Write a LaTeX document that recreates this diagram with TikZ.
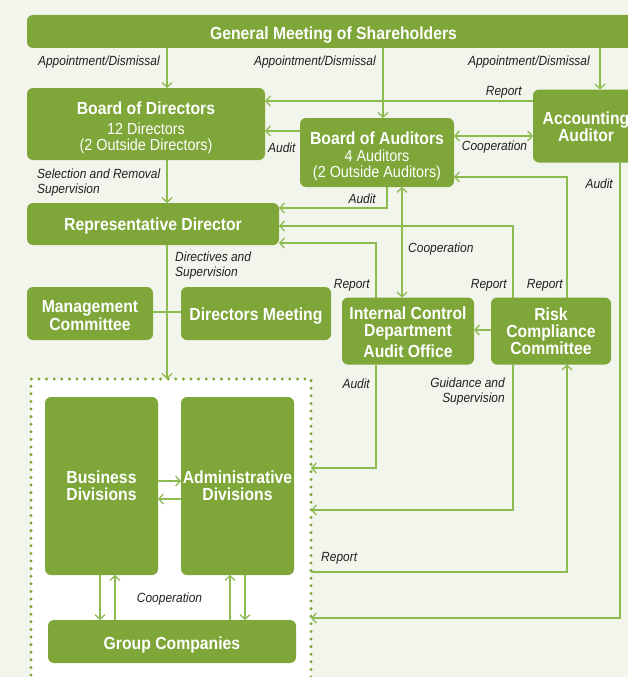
\documentclass[tikz,border=0pt]{standalone}
\usepackage{fontspec}
\setmainfont{Liberation Sans}[FakeStretch=0.9]
\usetikzlibrary{arrows.meta}

\definecolor{boxgreen}{RGB}{126,166,56}
\definecolor{linegreen}{RGB}{141,187,82}
\definecolor{paper}{RGB}{242,245,235}
\definecolor{ink}{RGB}{35,31,32}

\newcommand{\boxtitle}{\bfseries\fontsize{17.5}{17}\selectfont}
\newcommand{\boxsub}{\fontsize{16}{16}\selectfont}
\newcommand{\linklabel}{\itshape\fontsize{13.3}{15}\selectfont}
% taller first line, so the text sits a little lower in its box
\newcommand{\lift}[1]{\rule{0pt}{#1pt}}

\tikzset{
  orgbox/.style={fill=boxgreen, rounded corners=6pt, text=white, align=center,
    inner sep=0pt, outer sep=0pt, font=\boxtitle},
  lbl/.style={text=ink, font=\linklabel, inner sep=0pt},
  link/.style={draw=linegreen, line width=1.3pt},
  arr/.style={link, -{Straight Barb[length=4.5pt,width=10pt]}},
  dbl/.style={link, {Straight Barb[length=4.5pt,width=10pt]}-{Straight Barb[length=4.5pt,width=10pt]}},
}

\begin{document}
\begin{tikzpicture}[x=1pt,y=-1pt]

% Page and background
\useasboundingbox (0,0) rectangle (628,677);
\fill[paper] (0,0) rectangle (628,677);

% Governance boxes
\node[orgbox, minimum width=613pt, minimum height=33pt] (gm) at (333.5,31.5) {\lift{19}General Meeting of Shareholders};
\node[orgbox, minimum width=238pt, minimum height=72pt, font=\boxsub] (bod) at (146,124)
  {{\boxtitle\lift{20.5}Board of Directors}\\[4pt]12 Directors\\(2 Outside Directors)};
\node[orgbox, minimum width=154pt, minimum height=69pt, font=\boxsub] (boa) at (377,152.5)
  {{\boxtitle\lift{20}Board of Auditors}\\[1pt]4 Auditors\\(2 Outside Auditors)};
\node[orgbox, minimum width=106pt, minimum height=73pt] (aa) at (586,126) {\lift{14}Accounting\\Auditor};
\node[orgbox, minimum width=252pt, minimum height=42pt] (rd) at (153,224) {\lift{17.3}Representative Director};
\node[orgbox, minimum width=126pt, minimum height=53pt] (mc) at (90,313.5) {\lift{16}Management\\[1pt]Committee};
\node[orgbox, minimum width=150pt, minimum height=53pt] (dm) at (256,313.5) {\lift{17.7}Directors Meeting};
\node[orgbox, minimum width=132pt, minimum height=67pt] (icd) at (408,331) {\lift{15.5}Internal Control\\Department\\[4.5pt]Audit Office};
\node[orgbox, minimum width=120pt, minimum height=67pt] (rcc) at (551,331) {Risk\\Compliance\\Committee};

% Divisions area
\node[draw=boxgreen, fill=white, line width=3.3pt, dash pattern=on 0pt off 7.6pt, line cap=round,
  outer sep=0pt, minimum width=280pt, minimum height=322pt] (div) at (171,540) {};
\node[orgbox, minimum width=113pt, minimum height=178pt] (bd) at (101.5,486) {Business\\Divisions};
\node[orgbox, minimum width=113pt, minimum height=178pt] (ad) at (237.5,486) {Administrative\\Divisions};
\node[orgbox, minimum width=248pt, minimum height=43pt] (gc) at (172,641.5) {\lift{19.7}Group Companies};

% Tracks and corners of the connectors
\coordinate (vdir) at (167,0);
\coordinate (vaud) at (383,0);
\coordinate (vacc) at (600,0);
\coordinate (vcoop) at (402,0);
\coordinate (hrep) at (0,101);
\coordinate (haud) at (0,131);
\coordinate (hcoop) at (0,136);
\coordinate (hrisk) at (0,330);
\coordinate (hmeet) at (0,312);
\coordinate (hbd) at (0,481);
\coordinate (had) at (0,499);
\coordinate (c1) at (387,208);
\coordinate (c2) at (513,226);
\coordinate (c3) at (376,243);
\coordinate (c4) at (567,177);
\coordinate (c5) at (376,468);
\coordinate (c6) at (513,510);
\coordinate (c7) at (567,572);
\coordinate (c8) at (620,618);
\coordinate (v1) at (100,0);
\coordinate (v2) at (115,0);
\coordinate (v3) at (230,0);
\coordinate (v4) at (245,0);

% Shareholders
\draw[arr] (gm.south -| vdir) -- (bod.north -| vdir);
\draw[arr] (gm.south -| vaud) -- (boa.north -| vaud);
\draw[arr] (gm.south -| vacc) -- (aa.north -| vacc);

% Auditors
\draw[arr] (aa.west |- hrep) -- (bod.east |- hrep);
\draw[arr] (boa.west |- haud) -- (bod.east |- haud);
\draw[dbl] (boa.east |- hcoop) -- (aa.west |- hcoop);
\draw[arr] (boa.south -| c1) |- (rd.east |- c1);
\draw[dbl] (boa.south -| vcoop) -- (icd.north -| vcoop);

% Directors
\draw[arr] (bod.south -| vdir) -- (rd.north -| vdir);
\draw[link] (mc.east |- hmeet) -- (dm.west |- hmeet);
\draw[arr] (rd.south -| vdir) -- (div.north -| vdir);

% Reports up
\draw[arr] (rcc.north -| c2) |- (rd.east |- c2);
\draw[arr] (icd.north -| c3) |- (rd.east |- c3);
\draw[arr] (rcc.north -| c4) |- (boa.east |- c4);
\draw[arr] (rcc.west |- hrisk) -- (icd.east |- hrisk);

% Lines down to the divisions
\draw[arr] (icd.south -| c5) |- (div.east |- c5);
\draw[arr] (rcc.south -| c6) |- (div.east |- c6);
\draw[arr] (div.east |- c7) -| (rcc.south -| c7);
\draw[arr] (aa.south -| c8) |- (div.east |- c8);

% Divisions and group companies
\draw[arr] (bd.east |- hbd) -- (ad.west |- hbd);
\draw[arr] (ad.west |- had) -- (bd.east |- had);
\draw[arr] (bd.south -| v1) -- (gc.north -| v1);
\draw[arr] (gc.north -| v2) -- (bd.south -| v2);
\draw[arr] (gc.north -| v3) -- (ad.south -| v3);
\draw[arr] (ad.south -| v4) -- (gc.north -| v4);

% Labels
\node[lbl, anchor=east] (l1) at (160,62) {Appointment/Dismissal};
\node[lbl, anchor=east] (l2) at (376,62) {Appointment/Dismissal};
\node[lbl, anchor=east] (l3) at (590,62) {Appointment/Dismissal};
\node[lbl, anchor=east] (l4) at (522,92) {Report};
\node[lbl, anchor=west] (l5) at (268,148) {Audit};
\node[lbl] (l6) at (494.5,147) {Cooperation};
\node[lbl, anchor=west, align=left] (l7) at (37,183) {Selection and Removal\\Supervision};
\node[lbl, anchor=east] (l8) at (376,199) {Audit};
\node[lbl, anchor=east] (l9) at (613,184) {Audit};
\node[lbl, anchor=west] (l10) at (408,249) {Cooperation};
\node[lbl, anchor=west, align=left] (l11) at (175,266) {Directives and\\Supervision};
\node[lbl, anchor=east] (l12) at (370,285) {Report};
\node[lbl, anchor=east] (l13) at (507,285) {Report};
\node[lbl, anchor=east] (l14) at (563,285) {Report};
\node[lbl, anchor=east] (l15) at (370,384) {Audit};
\node[lbl, anchor=east, align=right] (l16) at (505,392) {Guidance and\\Supervision};
\node[lbl, anchor=west] (l17) at (321,558) {Report};
\node[lbl] (l18) at (169.5,599) {Cooperation};

\end{tikzpicture}
\end{document}
